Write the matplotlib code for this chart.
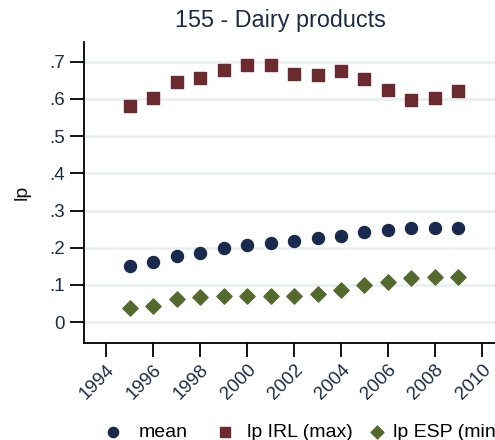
import matplotlib
matplotlib.use("Agg")
import matplotlib.pyplot as plt

plt.rcParams['font.family'] = ['Liberation Sans', 'DejaVu Sans']

years = [1995, 1996, 1997, 1998, 1999, 2000, 2001, 2002, 2003, 2004,
         2005, 2006, 2007, 2008, 2009]
lp_mean = [0.152, 0.161, 0.178, 0.186, 0.198, 0.208, 0.213, 0.217, 0.225,
           0.232, 0.241, 0.248, 0.252, 0.254, 0.254]
lp_irl = [0.582, 0.602, 0.645, 0.655, 0.678, 0.692, 0.692, 0.667, 0.665,
          0.676, 0.653, 0.625, 0.598, 0.603, 0.622]
lp_esp = [0.037, 0.044, 0.063, 0.067, 0.070, 0.070, 0.070, 0.070, 0.077,
          0.087, 0.099, 0.109, 0.119, 0.121, 0.121]

yticks = [0, 0.1, 0.2, 0.3, 0.4, 0.5, 0.6, 0.7]
ytick_labels = ['0', '.1', '.2', '.3', '.4', '.5', '.6', '.7']
xticks = [1994, 1996, 1998, 2000, 2002, 2004, 2006, 2008, 2010]

text_col = '#1c2a48'
fig = plt.figure(figsize=(4.95, 4.4), dpi=100)
# axes run past the right edge, as in the cropped original
ax = fig.add_axes([84 / 495, 1 - 343 / 440, 436 / 495, 301 / 440])

ax.set_xlim(1993.06, 2011.62)
ax.set_ylim(-0.056, 0.753)

ax.scatter(years, lp_mean, s=75, marker='o', color='#1a2a4f', label='mean', zorder=3)
ax.scatter(years, lp_irl, s=68, marker='s', color='#6a2a2f', label='lp IRL (max)', zorder=3)
ax.scatter(years, lp_esp, s=60, marker='D', color='#55692e', label='lp ESP (min)', zorder=3)

ax.set_yticks(yticks)
ax.set_yticklabels(ytick_labels)
ax.set_xticks(xticks)
ax.set_xticklabels([str(x) for x in xticks], rotation=45, ha='right',
                   rotation_mode='anchor')
ax.tick_params(axis='both', direction='out', length=10, width=1.3,
               labelsize=13.5, labelcolor=text_col)
ax.tick_params(axis='x', pad=3)
ax.tick_params(axis='y', pad=4)
ax.grid(axis='y', color='#e6eff1', linewidth=1.8)
ax.set_axisbelow(True)
for s in ['top', 'right']:
    ax.spines[s].set_visible(False)
for s in ['left', 'bottom']:
    ax.spines[s].set_linewidth(1.3)

ax.set_ylabel('lp', fontsize=14, color='#111111')
ax.yaxis.set_label_coords((31 - 84) / 436, 0.5)
fig.text(280 / 495, 1 - 20 / 440, '155 - Dairy products', ha='center', va='center',
         fontsize=16.8, color=text_col)

# legend entries placed one by one (Stata spacing is uneven)
handles, labels = ax.get_legend_handles_labels()
legend_x = [113, 225, 377]
legend_pad = [0.84, 0.63, 0.33]
for h, lab, x, pad in zip(handles, labels, legend_x, legend_pad):
    leg = fig.legend([h], [lab], loc='center left',
                     bbox_to_anchor=((x - 9.7) / 495, 1 - 432 / 440),
                     frameon=False, fontsize=14, handlelength=1.0,
                     handletextpad=pad, borderpad=0, borderaxespad=0,
                     markerscale=0.85)

fig.savefig('out.png', dpi=100)
